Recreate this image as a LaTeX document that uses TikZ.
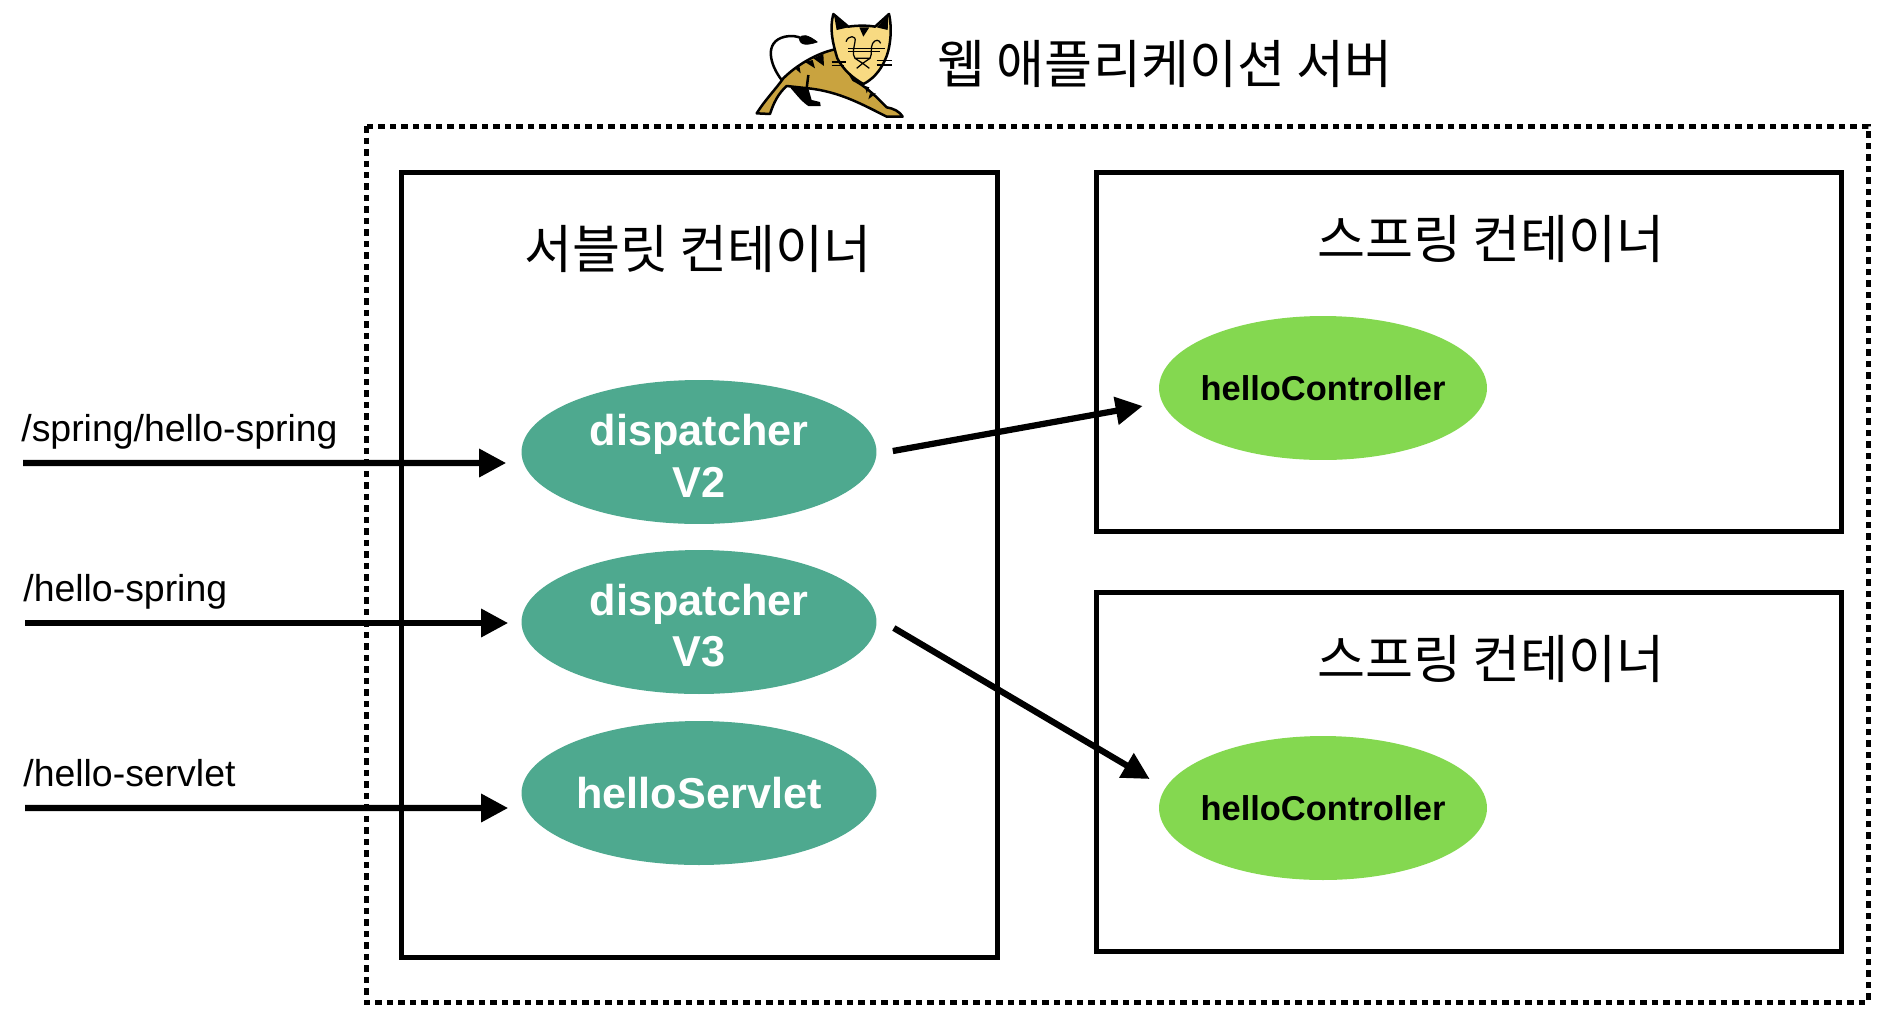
\documentclass[tikz,border=0pt]{standalone}
\usepackage{fontspec}
\setmainfont{Liberation Sans}
\newfontfamily\kofont{Noto Sans CJK KR}
\usetikzlibrary{arrows.meta,shapes.geometric}
\definecolor{servletteal}{HTML}{4EA98F}
\definecolor{springgreen}{HTML}{84D850}
\definecolor{catbody}{HTML}{C9A33F}
\definecolor{cathead}{HTML}{F8DA82}
\newcommand{\boxwidth}{0.1}
\newcommand{\arrowwidth}{0.125}
\newcommand{\lowered}{\rule{0pt}{22pt}}
\tikzset{
    servletnode/.style={ellipse, fill=servletteal, text=white, align=center, inner sep=0pt, minimum width=7.1cm, minimum height=2.88cm, font=\bfseries\fontsize{24.6}{29.3}\selectfont},
    springnode/.style={ellipse, fill=springgreen, inner sep=0pt, minimum width=6.56cm, minimum height=2.88cm, font=\bfseries\fontsize{19.6}{24}\selectfont},
    kotitle/.style={inner sep=0pt, font=\kofont\fontsize{29.7}{34}\selectfont},
    urllabel/.style={right, inner sep=0pt, font=\fontsize{21.3}{26}\selectfont},
    flow/.style={line width=\arrowwidth cm, -{Triangle[length=0.54cm,width=0.54cm]}},
}
\begin{document}
\begin{tikzpicture}[x=0.02cm, y=-0.02cm]
        \useasboundingbox (0,0) rectangle (1882,1022);

        %boxes
        \draw[line width=\boxwidth cm, dash pattern=on 0.13cm off 0.1cm] (366,126) rectangle (1868,1002);
        \draw[line width=\boxwidth cm] ( 401,172) rectangle ( 997,957);
        \draw[line width=\boxwidth cm] (1096,172) rectangle (1841,531);
        \draw[line width=\boxwidth cm] (1096,592) rectangle (1841,951);

        %titles
        \node[kotitle, name=servers ] at (1165, 64) {웹 애플리케이션 서버};
        \node[kotitle, name=servlets] at ( 698,249) {서블릿 컨테이너};
        \node[kotitle, name=springa ] at (1491,239) {스프링 컨테이너};
        \node[kotitle, name=springb ] at (1491,659) {스프링 컨테이너};

        %ellipses
        \node[servletnode, name=dispatcherv2] at ( 699,452) {\lowered dispatcher\\V2};
        \node[servletnode, name=dispatcherv3] at ( 699,622) {\lowered dispatcher\\V3};
        \node[servletnode, name=helloservlet] at ( 699,793) {helloServlet};
        \node[springnode , name=controllera ] at (1323,388) {\makebox[0pt]{helloController}};
        \node[springnode , name=controllerb ] at (1323,808) {\makebox[0pt]{helloController}};

        %urls
        \node[urllabel, name=urlv2     ] at (21,432) {/spring/hello-spring};
        \node[urllabel, name=urlv3     ] at (23,592) {/hello-spring};
        \node[urllabel, name=urlservlet] at (23,773) {/hello-servlet};
        \coordinate (startv2)      at (23,463);
        \coordinate (startv3)      at (25,623);
        \coordinate (startservlet) at (25,808);

        %arrows
        \draw[flow] (startv2)      -- ([shift={(-0.30cm,-0.22cm)}]dispatcherv2.west);
        \draw[flow] (startv3)      -- ([shift={(-0.26cm,-0.02cm)}]dispatcherv3.west);
        \draw[flow] (startservlet) -- ([shift={(-0.26cm,-0.30cm)}]helloservlet.west);
        \draw[flow] ([shift={(0.32cm,0.02cm)}]dispatcherv2.east) -- ([shift={(-0.32cm,-0.36cm)}]controllera.west);
        \draw[flow] ([shift={(0.34cm,-0.12cm)}]dispatcherv3.east) -- ([shift={(-0.18cm,0.58cm)}]controllerb.west);

        %tomcat
        \begin{scope}[shift={(740,0)}, x=0.00667cm, y=-0.00667cm, line join=round]
            \draw[line width=0.05cm] (125,240) .. controls (90,195) and (70,125) .. (135,110) .. controls (155,106) and (170,108) .. (185,115);
            \draw[fill=black] (178,116) .. controls (185,100) and (205,105) .. (232,126) .. controls (205,135) and (180,138) .. (178,116) -- cycle;
            \draw[line width=0.05cm, fill=catbody] (50,340) .. controls (75,300) and (105,270) .. (130,235) .. controls (170,195) and (230,160) .. (285,148) -- (340,240) .. controls (370,255) and (400,280) .. (440,322) .. controls (460,325) and (480,335) .. (488,350) -- (440,350) .. controls (370,315) and (300,275) .. (205,265) -- (140,258) .. controls (115,280) and (100,310) .. (90,342) -- cycle;
            \fill (150,262) -- (205,265) -- (215,300) -- (240,306) -- (242,318) -- (205,318) .. controls (185,305) and (170,285) .. (150,262) -- cycle;
            \draw[line width=0.05cm] (205,225) -- (200,265);
            \fill (220,175) -- (250,162) -- (252,198) -- cycle;
            \fill (195,186) -- (218,180) -- (225,205) -- cycle;
            \fill (165,205) -- (178,198) -- (182,220) -- cycle;
            \fill (375,258) -- (388,262) -- (380,280) -- cycle;
            \fill (390,280) -- (408,280) -- (385,298) -- cycle;
            \draw[line width=0.05cm, fill=cathead] (280,42) -- (325,80) .. controls (350,76) and (385,76) .. (405,80) -- (447,42) .. controls (458,90) and (450,150) .. (435,180) .. controls (420,215) and (395,240) .. (370,252) .. controls (340,235) and (310,210) .. (292,175) .. controls (278,130) and (268,85) .. (280,42) -- cycle;
            \fill (282,45) -- (325,82) -- (290,90) -- cycle;
            \fill (445,45) -- (410,82) -- (443,90) -- cycle;
            \fill (358,82) -- (388,82) -- (370,110) -- cycle;
            \draw[line width=0.025cm] (318,125) .. controls (325,105) and (350,105) .. (345,125) .. controls (342,145) and (335,160) .. (345,175) -- (390,175) .. controls (398,160) and (390,145) .. (398,130) .. controls (405,118) and (418,118) .. (422,130);
            \draw[line width=0.025cm] (325,145) -- (435,145) (325,155) -- (420,155);
            \draw[line width=0.025cm] (345,175) -- (368,190) -- (390,175) (350,205) -- (368,190) -- (388,205);
            \draw[line width=0.025cm] (275,186) -- (318,186) (275,196) -- (312,196) (410,182) -- (455,182) (410,195) -- (455,195);
        \end{scope}
\end{tikzpicture}
\end{document}
